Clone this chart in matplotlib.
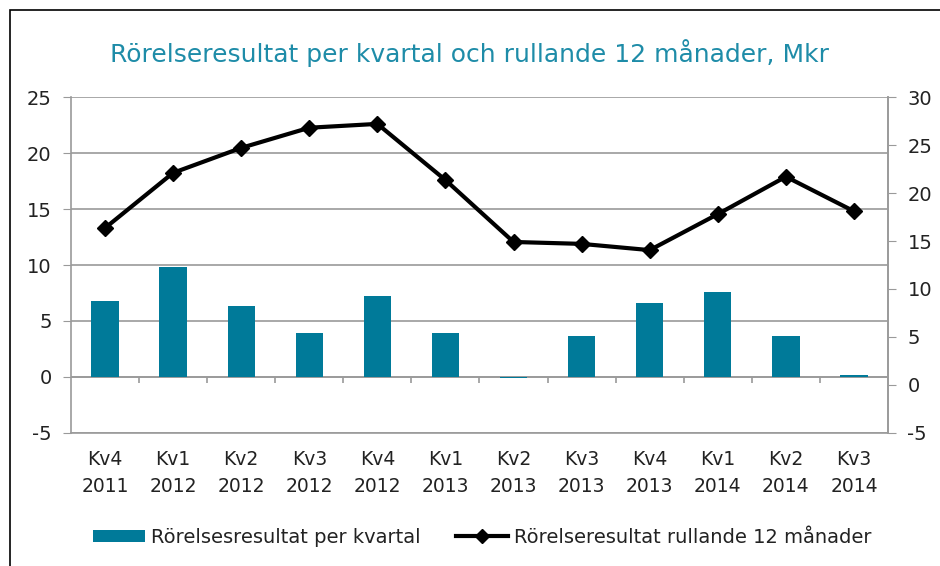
import numpy as np
import matplotlib.pyplot as plt
from matplotlib.lines import Line2D
from matplotlib.patches import Patch, Rectangle

plt.rcParams['font.family'] = ['DejaVu Sans']
plt.rcParams['axes.unicode_minus'] = False

# Data
quarters = ['Kv4\n2011', 'Kv1\n2012', 'Kv2\n2012', 'Kv3\n2012', 'Kv4\n2012', 'Kv1\n2013',
            'Kv2\n2013', 'Kv3\n2013', 'Kv4\n2013', 'Kv1\n2014', 'Kv2\n2014', 'Kv3\n2014']
per_quarter = [6.8, 9.8, 6.3, 3.95, 7.2, 3.95, -0.1, 3.7, 6.6, 7.55, 3.7, 0.2]
rolling_12m = [16.35, 22.1, 24.7, 26.8, 27.2, 21.35, 14.9, 14.7, 14.05, 17.8, 21.7, 18.1]

teal = '#007A99'
grey = '#9a9a9a'
txt = '#222222'

fig = plt.figure(figsize=(9.4, 5.66), dpi=100)
ax1 = fig.add_axes([0.0755, 0.235, 0.8692, 0.5936])

x = np.arange(len(quarters))
ax1.bar(x, per_quarter, width=0.4, color=teal, zorder=3)

ax1.set_xlim(-0.5, len(quarters) - 0.5)
ax1.set_ylim(-5, 25)
ax1.set_yticks(np.arange(-5, 26, 5))
ax1.set_xticks(x)
ax1.set_xticklabels(quarters, fontsize=13.5, color=txt, linespacing=1.55)
ax1.tick_params(axis='x', length=0, pad=12)
ax1.tick_params(axis='y', labelsize=14, colors=txt, color=grey, length=6, pad=8)
ax1.grid(axis='y', color=grey, linewidth=1.2, zorder=0)
ax1.axhline(0, color=grey, linewidth=1.2, zorder=1)
# small ticks between categories on the zero line
ax1.vlines(x[:-1] + 0.5, -0.5, 0, color=grey, linewidth=1.2, zorder=1)

for s in ['left', 'right', 'bottom', 'top']:
    ax1.spines[s].set_color(grey)
    ax1.spines[s].set_linewidth(1.2)
ax1.spines['top'].set_visible(False)

# Right axis for the rolling line
ax2 = ax1.twinx()
ax2.plot(x, rolling_12m, color='black', linewidth=3, marker='D', markersize=8, zorder=4)
ax2.set_ylim(-5, 30)
ax2.set_yticks(np.arange(-5, 31, 5))
ax2.tick_params(axis='y', labelsize=14, colors=txt, color=grey, length=6, pad=8)
for s in ['left', 'right', 'bottom', 'top']:
    ax2.spines[s].set_visible(False)
ax2.spines['right'].set_visible(True)
ax2.spines['right'].set_color(grey)
ax2.spines['right'].set_linewidth(1.2)

fig.text(0.5, 0.907, 'Rörelseresultat per kvartal och rullande 12 månader, Mkr',
         ha='center', va='center', fontsize=18, color='#1E8CA8')

handles = [Patch(facecolor=teal, edgecolor='none'),
           Line2D([0], [0], color='black', linewidth=3, marker='D', markersize=7)]
labels = ['Rörelsesresultat per kvartal', 'Rörelseresultat rullande 12 månader']
fig.legend(handles, labels, loc='center', bbox_to_anchor=(0.513, 0.051), ncol=2,
           frameon=False, fontsize=14, handlelength=2.7, handleheight=0.55,
           handletextpad=0.3, columnspacing=1.8, labelcolor=txt)

# outer frame
fig.patches.append(Rectangle((0.011, -0.1), 1.1, 1.082, transform=fig.transFigure,
                             fill=False, edgecolor='black', linewidth=1.2))

fig.savefig('out.png', dpi=100)
